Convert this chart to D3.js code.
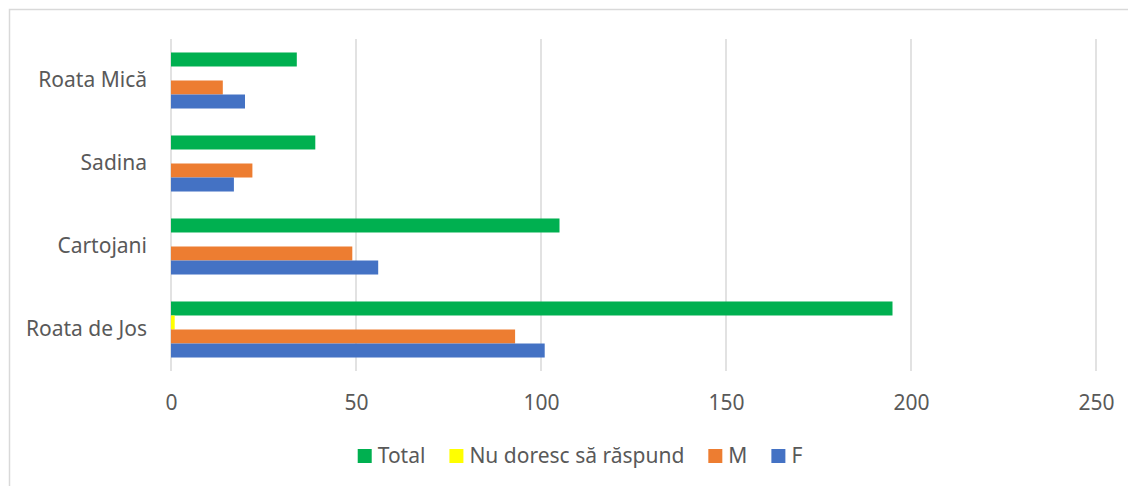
<!DOCTYPE html>
<meta charset="utf-8">
<html>
<script src="https://d3js.org/d3.v7.min.js"></script>
<body style="margin:0; background:white;">
<style>
    text {
        font-family: "Noto Sans", "Liberation Sans", sans-serif;
        fill: #595959;
    }
</style>
<div id="chart"></div>
<script>
    // data
    var categories = ["Roata Mică", "Sadina", "Cartojani", "Roata de Jos"];
    var seriesNames = ["Total", "Nu doresc să răspund", "M", "F"];
    var totalValues = [34, 39, 105, 195];
    var nuDorescValues = [0, 0, 0, 1];
    var mValues = [14, 22, 49, 93];
    var fValues = [20, 17, 56, 101];
    var xTicks = [0, 50, 100, 150, 200, 250];
    var colors = ["#00b050", "#ffff00", "#ed7d31", "#4472c4"];

    var seriesValues = [totalValues, nuDorescValues, mValues, fValues];
    var rows = categories.map(function(c, i) {
        return {cat: c, values: seriesNames.map(function(s, j) { return {name: s, value: seriesValues[j][i]}; })};
    });

    var W = 1128, H = 486;
    var plot = {left: 171, right: 1096, top: 39, bottom: 371};
    var fontSize = "21px";

    var svg = d3.select("#chart").append("svg")
        .attr("width", W)
        .attr("height", H);

    // chart border
    svg.append("rect")
        .attr("x", 9.5).attr("y", 9.5)
        .attr("width", W + 20).attr("height", H + 20)
        .attr("fill", "white")
        .attr("stroke", "#d9d9d9")
        .attr("stroke-width", 1.5);

    var x = d3.scaleLinear().domain([0, 250]).range([plot.left, plot.right]);
    var y = d3.scaleBand().domain(categories).range([plot.top, plot.bottom])
        .paddingInner(0.325).paddingOuter(0.1625);
    var ySub = d3.scaleBand().domain(seriesNames).range([0, y.bandwidth()]);
    var color = d3.scaleOrdinal().domain(seriesNames).range(colors);

    // gridlines
    svg.append("g").selectAll("line")
        .data(xTicks)
        .enter().append("line")
        .attr("x1", function(d) { return x(d); })
        .attr("x2", function(d) { return x(d); })
        .attr("y1", plot.top)
        .attr("y2", plot.bottom)
        .attr("stroke", "#d9d9d9")
        .attr("stroke-width", 1.5);

    // bars
    var groups = svg.append("g").selectAll("g")
        .data(rows)
        .enter().append("g")
        .attr("transform", function(d) { return "translate(0," + y(d.cat) + ")"; });

    groups.selectAll("rect")
        .data(function(d) { return d.values; })
        .enter().append("rect")
        .attr("x", x(0))
        .attr("y", function(d) { return ySub(d.name); })
        .attr("width", function(d) { return x(d.value) - x(0); })
        .attr("height", ySub.bandwidth())
        .attr("fill", function(d) { return color(d.name); });

    // x axis labels
    var xAxis = svg.append("g")
        .attr("transform", "translate(0," + (plot.bottom + 39) + ")")
        .call(d3.axisBottom(x).tickValues(xTicks).tickSize(0).tickPadding(0));
    xAxis.select(".domain").remove();
    xAxis.selectAll("text")
        .attr("dy", 0)
        .style("font-size", fontSize)
        .style("font-family", "'Noto Sans', sans-serif")
        .attr("fill", "#595959");

    // category labels
    var yAxis = svg.append("g")
        .attr("transform", "translate(" + (plot.left - 24) + ",0)")
        .call(d3.axisLeft(y).tickSize(0).tickPadding(0));
    yAxis.select(".domain").remove();
    yAxis.selectAll("text")
        .style("font-size", fontSize)
        .style("font-family", "'Noto Sans', sans-serif")
        .attr("fill", "#595959");

    // legend
    var legend = svg.append("g");
    var items = legend.selectAll("g")
        .data(seriesNames)
        .enter().append("g");
    items.append("rect")
        .attr("width", 14).attr("height", 14)
        .attr("y", 449)
        .attr("fill", function(d) { return color(d); });
    items.append("text")
        .attr("x", 20)
        .attr("y", 463)
        .style("font-size", fontSize)
        .text(function(d) { return d; });

    var pos = 0;
    items.each(function() {
        var g = d3.select(this);
        g.attr("transform", "translate(" + pos + ",0)");
        pos += 20 + g.select("text").node().getComputedTextLength() + 24;
    });
    pos -= 24;
    legend.attr("transform", "translate(" + (580 - pos / 2) + ",0)");
</script>
</body>
</html>
